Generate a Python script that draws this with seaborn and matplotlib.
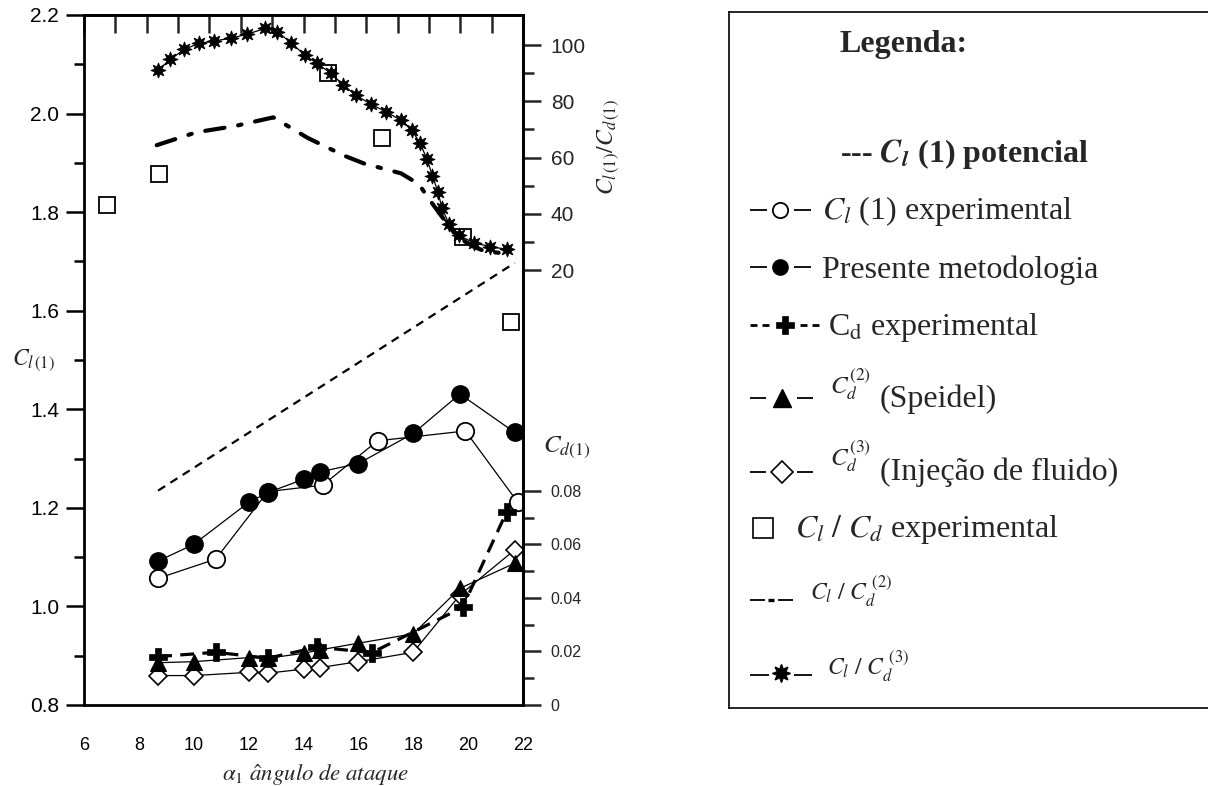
import matplotlib
matplotlib.use("Agg")
import matplotlib.pyplot as plt
import seaborn as sns
import numpy as np

# ---------------- data ----------------
alpha_cl_exp = [8.7, 10.8, 12.7, 14.7, 16.7, 19.9, 21.8]
cl_exp = [1.057, 1.096, 1.233, 1.246, 1.336, 1.356, 1.212]

alpha_pres = [8.7, 10.0, 12.0, 12.7, 14.0, 14.6, 16.0, 18.0, 19.7, 21.7]
cl_pres = [1.092, 1.126, 1.211, 1.231, 1.258, 1.273, 1.290, 1.351, 1.431, 1.353]

alpha_pot = [8.7, 21.7]
cl_pot = [1.235, 1.697]

alpha_cd_exp = [8.7, 10.8, 12.7, 14.5, 16.5, 19.8, 21.4]
cd_exp = [0.0181, 0.0197, 0.0175, 0.0216, 0.0196, 0.0365, 0.0721]

cd_speidel = [0.0158, 0.0162, 0.0177, 0.0175, 0.0193, 0.0206, 0.0231, 0.0266, 0.0436, 0.0530]
cd_inj = [0.0110, 0.0110, 0.0122, 0.0119, 0.0134, 0.0140, 0.0162, 0.0197, 0.0411, 0.0580]

alpha_ratio_exp = [6.85, 8.75, 14.9, 16.85, 19.8, 21.55]
ratio_exp = [43.1, 54.0, 89.9, 66.8, 31.8, 1.6]

alpha_ratio2 = [8.65, 10.1, 11.5, 12.9, 14.15, 15.5, 16.2, 17.55, 18.2, 18.6,
                19.05, 19.6, 20.2, 20.65, 21.45]
ratio2 = [64.4, 69.0, 71.2, 74.3, 67.0, 60.6, 57.9, 54.4, 50.6, 44.9,
          38.9, 31.8, 28.3, 26.5, 25.9]

alpha_ratio3 = [8.7, 9.15, 9.65, 10.2, 10.75, 11.35, 11.95, 12.6, 13.05, 13.55,
                14.05, 14.5, 15.0, 15.45, 15.9, 16.45, 17.0, 17.55, 17.95, 18.25,
                18.5, 18.7, 18.9, 19.05, 19.3, 19.65, 20.2, 20.8, 21.4]
ratio3 = [91.1, 94.9, 98.5, 100.6, 101.5, 102.4, 103.9, 105.9, 104.7, 100.8,
          96.4, 93.5, 89.9, 85.8, 82.2, 79.0, 76.3, 73.3, 69.8, 65.0,
          59.5, 53.5, 47.8, 41.9, 36.5, 32.4, 29.7, 28.3, 27.4]

x_ticks = [6, 8, 10, 12, 14, 16, 18, 20, 22]
cl_ticks = [0.8, 1.0, 1.2, 1.4, 1.6, 1.8, 2.0, 2.2]
cd_ticks = [0, 0.02, 0.04, 0.06, 0.08]
cd_tick_labels = ["0", "0.02", "0.04", "0.06", "0.08"]
ratio_ticks = [20, 40, 60, 80, 100]

# ---------------- style ----------------
sns.set_style("white")
plt.rcParams["font.family"] = ["Liberation Sans", "DejaVu Sans"]
plt.rcParams["mathtext.fontset"] = "stix"
plt.rcParams["lines.scale_dashes"] = False

W, H = 1208, 786
fig = plt.figure(figsize=(W / 100, H / 100), dpi=100)

L, R, T, B = 84, 523, 15, 705
ax = fig.add_axes([L / W, 1 - B / H, (R - L) / W, (B - T) / H])
ax_cd = ax.twinx()
ax_r = ax.twinx()

K = "black"
thin = 0.9

# Cl potential (dashed)
sns.lineplot(x=alpha_pot, y=cl_pot, ax=ax, color=K, lw=1.6,
             linestyle=(0, (6, 4.5)))
# Cl experimental (open circles)
sns.lineplot(x=alpha_cl_exp, y=cl_exp, ax=ax, color=K, lw=thin, marker="o",
             ms=12.5, mfc="white", mec=K, mew=1.3)
# Presente metodologia (filled circles)
sns.lineplot(x=alpha_pres, y=cl_pres, ax=ax, color=K, lw=thin, marker="o",
             ms=12.5, mfc=K, mec=K, mew=1.0)

# Cd series
sns.lineplot(x=alpha_pres, y=cd_inj, ax=ax_cd, color=K, lw=thin, marker="D",
             ms=9, mfc="white", mec=K, mew=1.2)
sns.lineplot(x=alpha_pres, y=cd_speidel, ax=ax_cd, color=K, lw=thin, marker="^",
             ms=11, mfc=K, mec=K, mew=0.8)
sns.lineplot(x=alpha_cd_exp, y=cd_exp, ax=ax_cd, color=K, lw=2.3,
             linestyle=(0, (10, 6)), marker="P", ms=13, mfc=K, mec=K, mew=0.5)

# Cl/Cd series
sns.lineplot(x=alpha_ratio2, y=ratio2, ax=ax_r, color=K, lw=3.0,
             linestyle=(0, (14, 10, 2.5, 10)), dash_capstyle="round")
sns.lineplot(x=alpha_ratio3, y=ratio3, ax=ax_r, color=K, lw=thin,
             marker=(8, 1, 0), ms=11, mfc=K, mec=K, mew=0.6)
sns.lineplot(x=alpha_ratio_exp, y=ratio_exp, ax=ax_r, color=K, linestyle="none",
             marker="s", ms=11, mfc="none", mec=K, mew=1.3)

# ---------------- axes ----------------
ax.set_xlim(6, 22)
ax.set_ylim(0.8, 2.2)
ax_cd.set_ylim(0, 0.2579)
ax_r.set_ylim(-134.7, 110.7)

for a in (ax, ax_cd, ax_r):
    for s in a.spines.values():
        s.set_linewidth(2.0)
        s.set_color(K)
for a in (ax_cd, ax_r):
    a.spines["left"].set_visible(False)
    a.spines["top"].set_visible(False)
    a.spines["bottom"].set_visible(False)
ax.spines["right"].set_visible(False)

tick_font = "Liberation Sans"
ax.set_xticks(x_ticks)
ax.set_xticks(np.arange(7, 22, 2), minor=True)
ax.set_xticklabels([str(v) for v in x_ticks], fontsize=13, family=tick_font)
ax.set_yticks(cl_ticks)
ax.set_yticks(np.arange(0.9, 2.15, 0.2), minor=True)
ax.set_yticklabels([f"{v:.1f}" for v in cl_ticks], fontsize=15, family=tick_font)
ax.tick_params(axis="both", which="major", direction="out", length=13, width=1.8,
               color=K, labelcolor=K)
ax.tick_params(axis="both", which="minor", direction="out", length=7, width=1.8,
               color=K)
ax.tick_params(axis="x", which="major", pad=10)
ax.tick_params(axis="y", which="major", pad=5)
ax.tick_params(top=False, right=False, which="both")

ax_cd.set_yticks(cd_ticks)
ax_cd.set_yticks([0.01, 0.03, 0.05, 0.07], minor=True)
ax_cd.set_yticklabels(cd_tick_labels, fontsize=11.5, family=tick_font)
ax_cd.tick_params(axis="y", which="major", direction="out", length=13, width=1.8, pad=7)
ax_cd.tick_params(axis="y", which="minor", direction="out", length=8, width=1.8)

ax_r.set_yticks(ratio_ticks)
ax_r.set_yticks([30, 50, 70, 90], minor=True)
ax_r.set_yticklabels([str(v) for v in ratio_ticks], fontsize=15, family=tick_font)
ax_r.tick_params(axis="y", which="major", direction="out", length=13, width=1.8, pad=7)
ax_r.tick_params(axis="y", which="minor", direction="out", length=8, width=1.8)

# top ticks (different spacing, inward)
sec = ax.secondary_xaxis("top", functions=(lambda x: (x - 6) * 14 / 16,
                                           lambda t: 6 + t * 16 / 14))
sec.set_xticks(range(0, 15))
sec.tick_params(direction="in", length=13, width=1.8, labeltop=False)
sec.spines["top"].set_linewidth(2.0)

# labels
serif = ["Liberation Serif", "DejaVu Serif"]
ax.set_xlabel(r"$\alpha_1$ $\hat{a}ngulo\ de\ ataque$", fontsize=16.5, family=serif)
ax.xaxis.set_label_coords(0.528, -0.083)
ax.set_ylabel(r"$C_{l\,(1)}$", fontsize=17, rotation=0, family=serif)
ax.yaxis.set_label_coords(-0.165, 0.50)
ax.yaxis.label.set_ha("left")
ax.yaxis.label.set_va("center")

ax_cd.set_ylabel(r"$C_{d(1)}$", fontsize=18, rotation=0, family=serif)
ax_cd.yaxis.set_label_coords(1.045, 0.374)
ax_cd.yaxis.label.set_ha("left")
ax_cd.yaxis.label.set_va("center")

ax_r.set_ylabel(r"$C_{l\,(1)}/C_{d\,(1)}$", fontsize=17, rotation=90, family=serif)
ax_r.yaxis.set_label_coords(1.194, 0.809)
ax_r.yaxis.label.set_ha("center")
ax_r.yaxis.label.set_va("center")

# ---------------- legend box ----------------
LX0, LY0, LY1 = 729, 12, 708
lw_frac = 1 - LX0 / W + 0.02
lax = fig.add_axes([LX0 / W, 1 - LY1 / H, lw_frac, (LY1 - LY0) / H])
lax.set_xlim(LX0, LX0 + lw_frac * W)
lax.set_ylim(LY1, LY0)
lax.set_xticks([])
lax.set_yticks([])
for s in lax.spines.values():
    s.set_linewidth(1.2)
    s.set_color(K)
lax.patch.set_alpha(0)

FS = 23
def txt(x, y, s, fs=FS, **kw):
    lax.text(x, y, s, fontsize=fs, family=serif, ha="left", va="baseline", **kw)

txt(840, 52, "Legenda:", fontweight="bold")
txt(840, 162, r"--- $\mathbfit{C_l}$ (1) potencial", fontweight="bold")

def seg(x0, x1, y, lw=1.3):
    lax.plot([x0, x1], [y, y], color=K, lw=lw, solid_capstyle="butt")

# row: Cl experimental
seg(750, 767, 210); seg(794, 811, 210)
lax.plot([780], [210], marker="o", ms=11, mfc="white", mec=K, mew=1.3)
txt(822, 219, r"$C_l$ (1) experimental")
# row: presente
seg(750, 767, 267); seg(794, 811, 267)
lax.plot([780], [267], marker="o", ms=11, mfc=K, mec=K)
txt(822, 278, "Presente metodologia")
# row: Cd experimental
for a0, a1 in [(750, 757), (762, 769), (800, 807), (812, 819)]:
    seg(a0, a1, 325, lw=2.0)
lax.plot([785], [325], marker="P", ms=13, mfc=K, mec=K, mew=0.5)
txt(828, 335, r"C$_{\rm d}$ experimental")
# row: Speidel
seg(750, 766, 398); seg(797, 813, 398)
lax.plot([782], [398], marker="^", ms=13, mfc=K, mec=K)
txt(830, 393, r"$C_d^{(2)}$", fs=18)
txt(880, 407, "(Speidel)")
# row: Injecao
seg(750, 766, 472); seg(797, 813, 472)
lax.plot([782], [472], marker="D", ms=11, mfc="white", mec=K, mew=1.2)
txt(830, 465, r"$C_d^{(3)}$", fs=18)
txt(880, 480, "(Injeção de fluido)")
# row: Cl/Cd experimental
lax.plot([763], [528], marker="s", ms=15, mfc="white", mec=K, mew=1.2)
txt(795, 537, r"$C_l\ /\ C_d$ experimental")
# row: Cl/Cd (2)
seg(750, 765, 600); seg(778, 793, 600)
seg(768, 774, 600, lw=2.4)
txt(810, 600, r"$C_l\ /\ C_d^{\ (2)}$", fs=17)
# row: Cl/Cd (3)
seg(750, 769, 675); seg(794, 812, 675)
lax.plot([781], [673], marker=(8, 1, 0), ms=13, mfc=K, mec=K)
txt(827, 675, r"$C_l\ /\ C_d^{\ (3)}$", fs=17)

fig.savefig("out.png", dpi=100)
